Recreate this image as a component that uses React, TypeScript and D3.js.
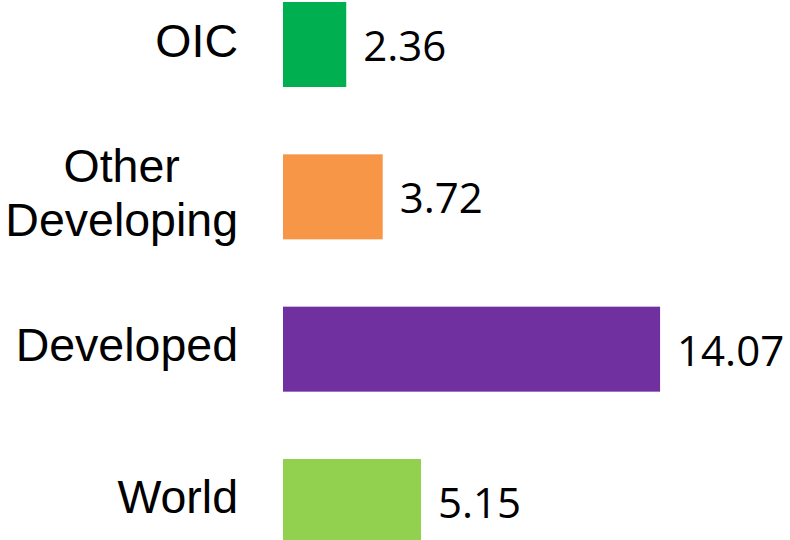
import React, { useEffect, useRef } from "react";
import * as d3 from "d3";

const categories = ["OIC", "Other Developing", "Developed", "World"];
const labelLines = [["OIC"], ["Other", "Developing"], ["Developed"], ["World"]];
const values = [2.36, 3.72, 14.07, 5.15];
const colors = ["#00B050", "#F79646", "#7030A0", "#92D050"];

const WIDTH = 790;
const HEIGHT = 540;

const App = () => {
  const svgRef = useRef<SVGSVGElement>(null);

  useEffect(() => {
    if (!svgRef.current) return;
    const svg = d3.select(svgRef.current);
    svg.selectAll("*").remove();

    const x = d3.scaleLinear().domain([0, 15]).range([283, 283 + 15 * 26.8]);
    const y = d3
      .scaleBand<string>()
      .domain(categories)
      .range([2, 544])
      .paddingInner(0.442)
      .paddingOuter(0);

    // bars
    svg
      .selectAll("rect.bar")
      .data(values)
      .enter()
      .append("rect")
      .attr("class", "bar")
      .attr("x", x(0))
      .attr("y", (_d, i) => y(categories[i])!)
      .attr("width", (d) => x(d) - x(0))
      .attr("height", y.bandwidth())
      .attr("fill", (_d, i) => colors[i]);

    // value labels
    svg
      .selectAll("text.val")
      .data(values)
      .enter()
      .append("text")
      .attr("class", "val")
      .attr("x", (d) => x(d) + 17)
      .attr("y", (_d, i) => y(categories[i])! + y.bandwidth() / 2 + 16.5)
      .attr("font-family", "'Open Sans', sans-serif")
      .attr("font-size", 42)
      .attr("fill", "#000")
      .text((d) => d.toFixed(2));

    // category labels, lines centred in a right-aligned block
    const rightEdge = 238;
    const lineH = 54;
    labelLines.forEach((lines, i) => {
      const cy = y(categories[i])! + y.bandwidth() / 2;
      const g = svg.append("g");
      const texts = lines.map((line, j) =>
        g
          .append("text")
          .attr("y", cy + 12 + (j - (lines.length - 1) / 2) * lineH)
          .attr("font-family", "'Liberation Sans', Arial, sans-serif")
          .attr("font-size", 46.5)
          .attr("fill", "#000")
          .text(line)
      );
      const maxW = d3.max(texts, (t) => (t.node() as SVGTextElement).getComputedTextLength()) || 0;
      texts.forEach((t) => t.attr("text-anchor", "middle").attr("x", rightEdge - maxW / 2));
    });
  }, []);

  return (
    <svg
      ref={svgRef}
      width={WIDTH}
      height={HEIGHT}
      style={{ position: "absolute", left: 0, top: 0, background: "#fff" }}
    />
  );
};

export default App;
